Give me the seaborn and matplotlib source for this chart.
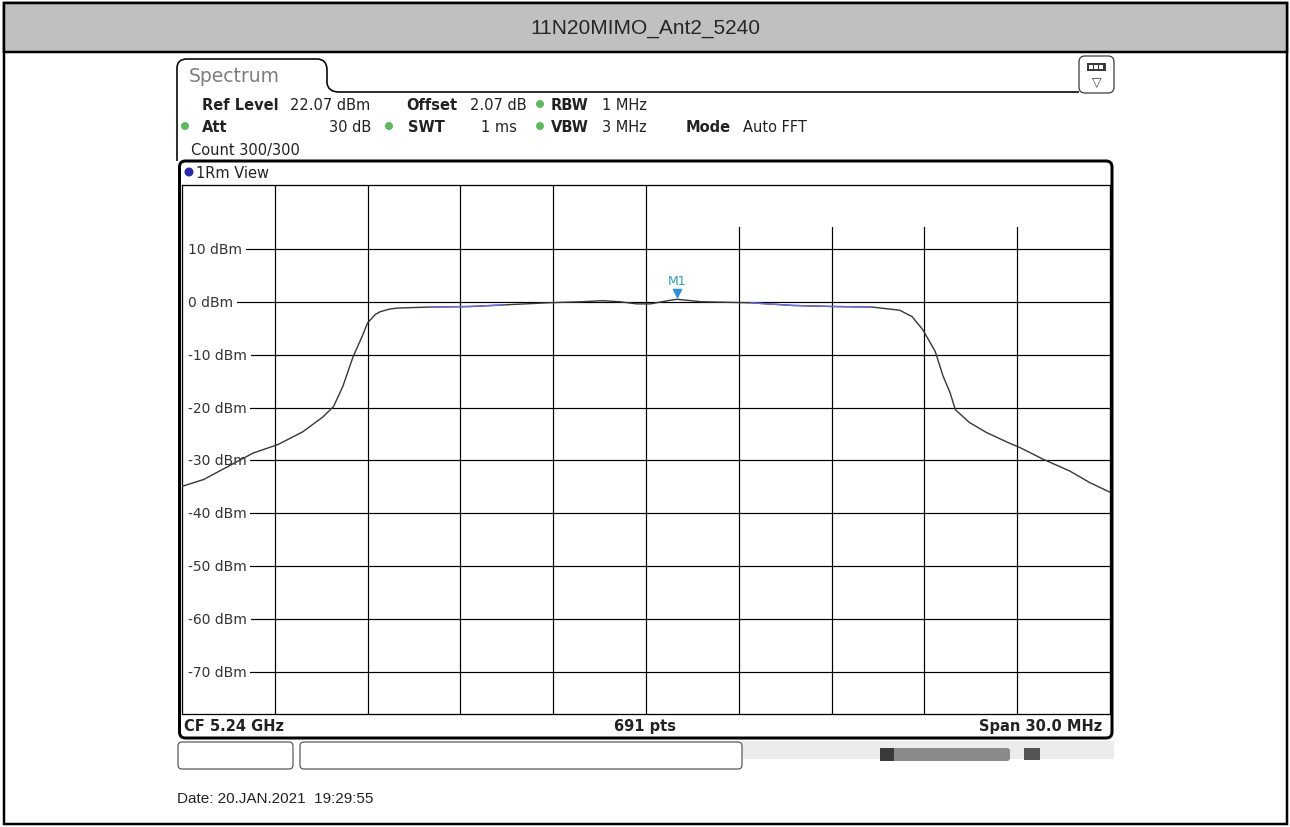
import numpy as np
import matplotlib
matplotlib.use("Agg")
import matplotlib.pyplot as plt
import matplotlib.transforms as mtransforms
import seaborn as sns
from matplotlib.patches import Rectangle, FancyBboxPatch, Circle, PathPatch
from matplotlib.path import Path

# chart values
title = "11N20MIMO_Ant2_5240"
center_ghz = 5.24
span_mhz = 30.0
ref_level = 22.07
n_points = 691
grid_levels = [10, 0, -10, -20, -30, -40, -50, -60, -70]

offset_mhz = np.array([
    -15.0, -14.3, -13.5, -12.7, -11.9, -11.1, -10.45, -10.1, -9.8, -9.47,
    -9.18, -9.0, -8.75, -8.6, -8.3, -8.05, -7.0, -5.7, -4.6, -3.2,
    -2.1, -1.4, -0.85, -0.3, 0.15, 0.7, 1.0, 1.8, 3.4, 4.75,
    6.05, 7.3, 8.2, 8.6, 8.95, 9.35, 9.6, 9.83, 10.0, 10.45,
    11.0, 11.7, 12.1, 12.85, 13.7, 14.35, 15.0])
level_dbm = np.array([
    -34.9, -33.6, -31.1, -28.6, -27.0, -24.6, -21.8, -19.8, -16.0, -10.4,
    -6.6, -4.0, -2.4, -1.9, -1.4, -1.2, -1.0, -0.9, -0.6, -0.2,
    0.0, 0.2, 0.0, -0.4, -0.4, 0.2, 0.47, 0.0, -0.2, -0.7,
    -0.9, -1.0, -1.6, -2.8, -5.3, -9.4, -14.0, -17.2, -20.4, -22.8,
    -24.7, -26.6, -27.6, -29.8, -32.0, -34.2, -36.0])

m1_offset_mhz = 0.999
m1_level = 0.47

TEAL = "#2f9fb8"
GREEN = "#5fb85f"


def px(n):
    # pixel width -> points at 100 dpi
    return n * 0.72


sns.set_style("white")
plt.rcParams["font.family"] = ["DejaVu Sans"]

fig = plt.figure(figsize=(12.9, 8.28), dpi=100)
bg = fig.add_axes([0, 0, 1, 1])
bg.set_xlim(0, 1290)
bg.set_ylim(828, 0)
bg.axis("off")

# page frame and title band
bg.add_patch(Rectangle((4, 4), 1283, 821, fill=False, ec="black", lw=px(2.5)))
bg.add_patch(Rectangle((4, 4), 1283, 49, fc="#c0c0c0", ec="black", lw=px(2.5)))
bg.text(645, 29, title, ha="center", va="center", fontsize=15,
        family="Liberation Sans")

# spectrum tab outline
verts = [(177, 162), (177, 69), (177, 60), (187, 60), (317, 60), (327, 60),
         (327, 71), (327, 84), (328, 93), (339, 93), (1079, 93)]
codes = [Path.MOVETO, Path.LINETO, Path.CURVE3, Path.CURVE3, Path.LINETO,
         Path.CURVE3, Path.CURVE3, Path.LINETO, Path.CURVE3, Path.CURVE3,
         Path.LINETO]
bg.add_patch(PathPatch(Path(verts, codes), fill=False, ec="black", lw=px(1.6)))
bg.text(189, 77, "Spectrum", fontsize=13.5, color="#7d7d7d", va="center")

# icon button at top right
bg.add_patch(FancyBboxPatch((1079, 57), 35, 37,
                            boxstyle="round,pad=0,rounding_size=6",
                            fc="white", ec="#333333", lw=px(1.2)))
bg.add_patch(Rectangle((1087, 64), 19, 8, fc="#3a3a3a", ec="none"))
for sx in (1089, 1094, 1099):
    bg.add_patch(Rectangle((sx, 66), 4, 4, fc="white", ec="none"))
bg.text(1096.5, 82, "▽", ha="center", va="center", fontsize=9, color="#444444")

# settings header
hdr = dict(fontsize=10.5, va="center", color="#222222")
bg.text(202, 105, "Ref Level", weight="bold", **hdr)
bg.text(290, 105, "22.07 dBm", **hdr)
bg.text(406, 105, "Offset", weight="bold", **hdr)
bg.text(470, 105, "2.07 dB", **hdr)
bg.text(551, 105, "RBW", weight="bold", **hdr)
bg.text(602, 105, "1 MHz", **hdr)
bg.text(202, 127, "Att", weight="bold", **hdr)
bg.text(371, 127, "30 dB", ha="right", **hdr)
bg.text(408, 127, "SWT", weight="bold", **hdr)
bg.text(517, 127, "1 ms", ha="right", **hdr)
bg.text(551, 127, "VBW", weight="bold", **hdr)
bg.text(602, 127, "3 MHz", **hdr)
bg.text(686, 127, "Mode", weight="bold", **hdr)
bg.text(743, 127, "Auto FFT", **hdr)
bg.text(191, 150, "Count 300/300", **hdr)
for cx, cy in [(540, 105), (185, 127), (389, 127), (540, 127)]:
    bg.add_patch(Circle((cx, cy), 4, fc=GREEN, ec="none"))

# measurement window frame
bg.add_patch(FancyBboxPatch((179.5, 162), 932.5, 577,
                            boxstyle="round,pad=0,rounding_size=6",
                            fill=False, ec="black", lw=px(3)))
bg.add_patch(Circle((189, 173), 4.5, fc="#2a2aa8", ec="none"))
bg.text(196, 173, "1Rm View", **hdr)

# graticule axes
ax = fig.add_axes([182 / 1290, (828 - 715) / 828, 928 / 1290, (715 - 186) / 828])
ax.set_xlim(-span_mhz / 2, span_mhz / 2)
ax.set_ylim(ref_level - 100, ref_level)
ax.set_xticks([])
ax.set_yticks([])
ax.set_xlabel("")
ax.set_ylabel("")
for sp in ax.spines.values():
    sp.set_color("black")
    sp.set_linewidth(px(1.3))

for xv in np.linspace(-span_mhz / 2, span_mhz / 2, 11)[1:-1]:
    ax.axvline(xv, color="black", lw=px(1.2), zorder=1)
for yv in grid_levels:
    ax.axhline(yv, color="black", lw=px(1.2), zorder=1)

# marker readout area hides the grid
ax.add_patch(Rectangle((0.504, 0.921), 0.494, 0.079, transform=ax.transAxes,
                       fc="white", ec="none", zorder=1.5))

ylab = mtransforms.blended_transform_factory(ax.transAxes, ax.transData)
for yv in grid_levels:
    ax.text(0.006, yv, f"{yv} dBm", transform=ylab, ha="left", va="center",
            fontsize=10, color="#333333", zorder=2,
            bbox=dict(boxstyle="square,pad=0.3", fc="white", ec="none"))

sns.lineplot(x=offset_mhz, y=level_dbm, ax=ax, color="#383838",
             lw=px(1.4), zorder=3, sort=False)
for lo, hi in [(-7.6, -3.3), (2.2, 7.4)]:
    sel = (offset_mhz >= lo) & (offset_mhz <= hi)
    sns.lineplot(x=offset_mhz[sel], y=level_dbm[sel], ax=ax, color="#6b6be0",
                 lw=px(1.4), zorder=3.5, sort=False)

ax.scatter([m1_offset_mhz], [m1_level], marker="v", s=34, color="#2f8fd8",
           transform=mtransforms.offset_copy(ax.transData, fig=fig, y=6,
                                             units="dots"), zorder=4)
ax.text(m1_offset_mhz, m1_level, "M1", ha="center", va="bottom", fontsize=9,
        color=TEAL,
        transform=mtransforms.offset_copy(ax.transData, fig=fig, y=12,
                                          units="dots"), zorder=4)

# marker readout
rd = dict(va="center", fontsize=11, color=TEAL)
bg.plot([647, 720], [197, 197], color="black", lw=px(1.2))
bg.text(722, 197, "M1[1]", **rd)
bg.text(1110, 197, f"{m1_level:.2f} dBm", ha="right", **rd)
bg.text(1110, 218, f"{center_ghz + m1_offset_mhz / 1000:.7f} GHz", ha="right",
        **rd)

# status row
stat = dict(fontsize=10.5, va="center", weight="bold", color="#222222")
bg.text(184, 727, f"CF {center_ghz:g} GHz", **stat)
bg.text(645, 727, f"{n_points} pts", ha="center", **stat)
bg.text(1102, 727, f"Span {span_mhz:.1f} MHz", ha="right", **stat)

# softkey boxes and status icons below
bg.add_patch(Rectangle((742, 742), 372, 18, fc="#ececec", ec="none"))
for x0, w in [(178, 115), (300, 442)]:
    bg.add_patch(FancyBboxPatch((x0, 743), w, 27,
                                boxstyle="round,pad=0,rounding_size=4",
                                fc="white", ec="#555555", lw=px(1.2)))
bg.add_patch(FancyBboxPatch((880, 749), 130, 13,
                            boxstyle="round,pad=0,rounding_size=3",
                            fc="#8a8a8a", ec="none"))
bg.add_patch(Rectangle((880, 749), 14, 13, fc="#3a3a3a", ec="none"))
bg.add_patch(Rectangle((1024, 749), 16, 12, fc="#555555", ec="none"))

bg.text(177, 799, "Date: 20.JAN.2021  19:29:55", va="center", fontsize=11,
        family="Liberation Sans", color="#222222")

fig.savefig("out.png", dpi=100)
